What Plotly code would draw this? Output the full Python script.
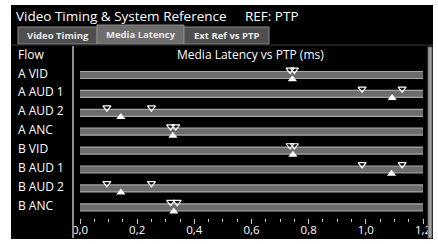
import plotly.graph_objects as go

# ---- data ----
flows = ["A VID", "A AUD 1", "A AUD 2", "A ANC", "B VID", "B AUD 1", "B AUD 2", "B ANC"]
latency_min = [0.735, 0.987, 0.094, 0.317, 0.735, 0.987, 0.094, 0.317]
latency_max = [0.750, 1.127, 0.250, 0.335, 0.750, 1.127, 0.250, 0.340]
latency_cur = [0.743, 1.092, 0.143, 0.325, 0.745, 1.090, 0.143, 0.328]
scale_max = 1.2
tick_vals = [0.0, 0.2, 0.4, 0.6, 0.8, 1.0, 1.2]

W, H = 438, 244
PL, PR, PT, PB = 80, 423, 45, 218
ROW0, ROWSTEP = 75, 18.9

def px(x):
    return (x - PL) / (PR - PL)

def py(y):
    return (PB - y) / (PB - PT)

FONT = "Open Sans"
idx = list(range(len(flows)))

fig = go.Figure()

# bars (full-scale tracks)
fig.add_trace(go.Bar(
    y=idx, x=[scale_max + 0.01] * len(flows), base=-0.005, orientation="h",
    width=0.37, marker=dict(color="#6c6c6c", line=dict(color="#a8a8a8", width=1.2)),
    hoverinfo="skip", showlegend=False))

# min / max markers (open down triangles above the track)
for arr in (latency_min, latency_max):
    fig.add_trace(go.Scatter(
        x=arr, y=[i - 0.27 for i in idx], mode="markers",
        marker=dict(symbol="triangle-down-open", size=7, color="white", line=dict(width=1.2, color="white")),
        showlegend=False, hoverinfo="skip"))

# current value markers (filled up triangles)
fig.add_trace(go.Scatter(
    x=latency_cur, y=[i + 0.22 for i in idx], mode="markers",
    marker=dict(symbol="triangle-up", size=8, color="white", line=dict(width=0)),
    showlegend=False, hoverinfo="skip"))

shapes = []
# black panel
shapes.append(dict(type="rect", xref="paper", yref="paper", x0=px(11), x1=px(433), y0=py(239), y1=py(5),
                   fillcolor="black", line=dict(width=0), layer="below"))
# tabs
tabs = [("Video Timing", 18, 97, 27, "#4e4e4e"), ("Media Latency", 97, 184, 25, "#6e6e6e"),
        ("Ext Ref vs PTP", 184, 269, 27, "#4e4e4e")]
for name, x0, x1, y0, col in tabs:
    shapes.append(dict(type="rect", xref="paper", yref="paper", x0=px(x0), x1=px(x1), y0=py(44), y1=py(y0),
                       fillcolor=col, line=dict(color="#8a8a8a", width=1), layer="below"))
# separator under tabs
shapes.append(dict(type="line", xref="paper", yref="paper", x0=px(11), x1=px(433), y0=py(45), y1=py(45),
                   line=dict(color="#3a3a3a", width=1), layer="below"))
# vertical divider between flow names and chart
shapes.append(dict(type="line", xref="paper", yref="paper", x0=px(73), x1=px(73), y0=py(238), y1=py(46),
                   line=dict(color="#8c8c8c", width=2), layer="above"))
# right scroll bar
shapes.append(dict(type="rect", xref="paper", yref="paper", x0=px(428), x1=px(432), y0=py(238), y1=py(47),
                   fillcolor="#a0a0a0", line=dict(color="#606060", width=1), layer="above"))

annotations = []
annotations.append(dict(text="Video Timing &amp; System Reference", xref="paper", yref="paper",
                        x=px(14), y=py(16), xanchor="left", yanchor="middle", showarrow=False,
                        font=dict(family=FONT, size=13.5, color="white")))
annotations.append(dict(text="REF: PTP", xref="paper", yref="paper",
                        x=px(243), y=py(16), xanchor="left", yanchor="middle", showarrow=False,
                        font=dict(family=FONT, size=13.5, color="white")))
for name, x0, x1, y0, col in tabs:
    annotations.append(dict(text="<b>" + name + "</b>", xref="paper", yref="paper",
                            x=px((x0 + x1) / 2), y=py((y0 + 44) / 2 + 0.5), xanchor="center", yanchor="middle",
                            showarrow=False, font=dict(family=FONT, size=9.5, color="#e8e8e8")))
annotations.append(dict(text="Flow", xref="paper", yref="paper", x=px(16), y=py(54), xanchor="left",
                        yanchor="middle", showarrow=False, font=dict(family=FONT, size=12, color="white")))
annotations.append(dict(text="Media Latency vs PTP (ms)", xref="paper", yref="paper", x=px(250), y=py(54),
                        xanchor="center", yanchor="middle", showarrow=False,
                        font=dict(family=FONT, size=12, color="white")))
for i, name in enumerate(flows):
    annotations.append(dict(text=name, xref="paper", yref="y", x=px(16), y=i, yshift=2, xanchor="left",
                            yanchor="middle", showarrow=False, font=dict(family=FONT, size=12, color="white")))

fig.update_layout(
    template="none",
    width=W, height=H,
    margin=dict(l=PL, r=W - PR, t=PT, b=H - PB, pad=0, autoexpand=False),
    paper_bgcolor="white", plot_bgcolor="black",
    separators=",.",
    barmode="overlay",
    shapes=shapes, annotations=annotations,
    xaxis=dict(range=[0, scale_max], tickvals=tick_vals, tickformat=".1f", ticks="outside", ticklen=5,
               tickwidth=1, tickcolor="#c8c8c8", showgrid=False, zeroline=False, showline=False,
               automargin=False, ticklabelstandoff=-4,
               tickfont=dict(family=FONT, size=11.5, color="white"),
               minor=dict(dtick=0.05, ticks="outside", ticklen=3, tickcolor="#c8c8c8", showgrid=False),
               fixedrange=True),
    yaxis=dict(range=[(PB - ROW0) / ROWSTEP, (PT - ROW0) / ROWSTEP], showticklabels=False, showgrid=False,
               zeroline=False, showline=False, ticks="", fixedrange=True, automargin=False),
)

fig.write_html("out.html", config={"displayModeBar": False},
               post_script="document.body.style.margin='0';document.body.style.overflow='hidden';")
